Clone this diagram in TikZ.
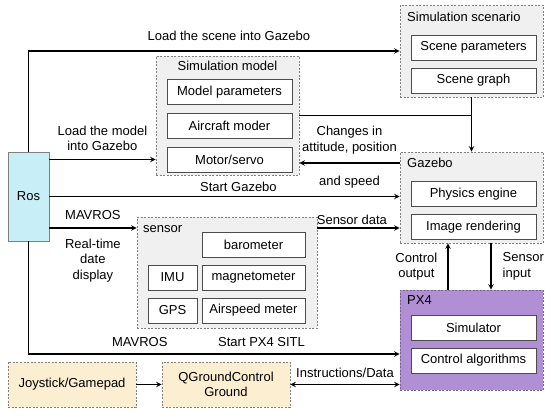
\documentclass[tikz,border=0pt]{standalone}
\usepackage{fontspec}
\setmainfont{Liberation Sans}
\usetikzlibrary{arrows, positioning, calc}

\definecolor{rosblue}{RGB}{200,238,248}
\definecolor{groupgray}{RGB}{240,240,240}
\definecolor{pxpurple}{RGB}{176,143,212}
\definecolor{gcsbeige}{RGB}{252,238,208}

\begin{document}
\begin{tikzpicture}[
    x=1pt, y=-1pt,
    font=\fontsize{13}{15.5}\selectfont,
    group/.style={rectangle, draw=gray, dash pattern=on 2pt off 1.5pt, fill=groupgray, line width=0.8pt, inner sep=0pt},
    item/.style={rectangle, draw=black!70, fill=white, minimum width=125pt, minimum height=25pt, inner sep=0pt, line width=0.8pt},
    title/.style={anchor=west, inner sep=0pt},
    lbl/.style={inner sep=2pt, align=center},
    arrow/.style={line width=1.4pt, ->, >=stealth}
]
\useasboundingbox (0,0) rectangle (550,416);

% ROS
\node[rectangle, draw=gray, fill=rosblue, minimum width=41pt, minimum height=89pt, inner sep=0pt] (ros) at (28.5,196.5) {Ros};

% simulation model
\node[group, minimum width=143pt, minimum height=119pt] (simmodel) at (227.5,115.5) {};
\node[title, anchor=center] (simmodeltitle) at (227.5,66) {Simulation model};
\node[item] (modelpar) at (229.5,92) {Model parameters};
\node[item] (aircraft) at (229.5,125.5) {Aircraft moder};
\node[item] (motor) at (229.5,159.5) {Motor/servo};

% simulation scenario
\node[group, minimum width=143pt, minimum height=92pt] (scenario) at (471.5,51) {};
\node[title] (scenariotitle) at (407,17) {Simulation scenario};
\node[item] (scenepar) at (473.5,47.5) {Scene parameters};
\node[item] (scenegraph) at (473.5,80.5) {Scene graph};

% gazebo
\node[group, minimum width=143pt, minimum height=91pt] (gazebo) at (471.5,197.5) {};
\node[title] (gazebotitle) at (407,163) {Gazebo};
\node[item] (physics) at (473.5,194) {Physics engine};
\node[item] (render) at (473.5,227) {Image rendering};

% sensors
\node[group, minimum width=180pt, minimum height=111pt] (sensor) at (227,272.5) {};
\node[title] (sensortitle) at (143,229) {sensor};
\node[item, minimum width=103pt] (baro) at (253.5,244.5) {barometer};
\node[item, minimum width=49pt] (imu) at (172.5,277.5) {IMU};
\node[item, minimum width=103pt] (magneto) at (253.5,277.5) {magnetometer};
\node[item, minimum width=49pt] (gps) at (172.5,310.5) {GPS};
\node[item, minimum width=103pt] (airspeed) at (253.5,310.5) {Airspeed meter};

% PX4
\node[group, draw=pxpurple!70!black, fill=pxpurple, minimum width=143pt, minimum height=100pt] (px4) at (471.5,340) {};
\node[title] (px4title) at (407,300) {PX4};
\node[item] (simulator) at (473.5,328) {Simulator};
\node[item] (ctrlalg) at (473.5,360.5) {Control algorithms};

% ground side
\node[group, fill=gcsbeige, minimum width=128pt, minimum height=45pt] (joystick) at (72,384.5) {Joystick/Gamepad};
\node[group, fill=gcsbeige, minimum width=128pt, minimum height=45pt, align=center] (qgc) at (226,384.5) {QGroundControl\\Ground};

% connections from ROS
\draw[arrow] (ros.north) |- node[lbl, pos=0.77, above=8pt] (lblscene) {Load the scene into Gazebo} (scenario.west);
\draw[arrow] (ros.east |- motor) -- node[lbl, above=6pt] (lblmodel) {Load the model\\into Gazebo} (simmodel.west |- motor);
\draw[arrow] (ros.east) -- node[lbl, pos=0.54, above=2pt] (lblstart) {Start Gazebo} (gazebo.west |- ros.east);
\draw[arrow] ([yshift=-31.5pt]ros.east) -- node[lbl, above=6pt] (lblmavros) {MAVROS}
    node[lbl, below=8pt] (lbldisplay) {Real-time\\date\\display} ([yshift=-31.5pt]ros.east -| sensor.west);
\draw[arrow] (ros.south) |- node[lbl, pos=0.65, above=5pt] (lblmavros2) {MAVROS}
    node[lbl, pos=0.814, above=5pt] (lblsitl) {Start PX4 SITL} ([yshift=-14pt]px4.west);

% model and scene into gazebo
\draw[line width=1.4pt] (simmodel.east) -- (simmodel.east -| scenario.south);
\draw[arrow] (scenario.south) -- (gazebo.north);
\draw[arrow] ([yshift=34.5pt]gazebo.west) -- node[lbl, above=6.6pt] (lblchanges) {Changes in\\attitude, position}
    node[lbl, below=10pt] (lblspeed) {and speed} ([yshift=34.5pt]gazebo.west -| simmodel.east);
\draw[arrow] ([yshift=44.5pt]sensor.east) -- node[lbl, pos=0.42, above=1pt] (lblsensordata) {Sensor data} ([yshift=44.5pt]sensor.east -| gazebo.west);

% gazebo <-> px4
\draw[arrow] ([xshift=-23.5pt]px4.north) -- node[lbl, left=8pt] (lblctrl) {Control\\output} ([xshift=-23.5pt]gazebo.south);
\draw[arrow] ([xshift=19.5pt]gazebo.south) -- node[lbl, right=9pt, align=left] (lblsensin) {Sensor\\input} ([xshift=19.5pt]px4.north);

% ground station
\draw[arrow] (joystick) -- (qgc);
\draw[arrow, <->] (qgc.east) -- node[lbl, above=4pt] (lblinstr) {Instructions/Data} (qgc.east -| px4.west);

\end{tikzpicture}
\end{document}
